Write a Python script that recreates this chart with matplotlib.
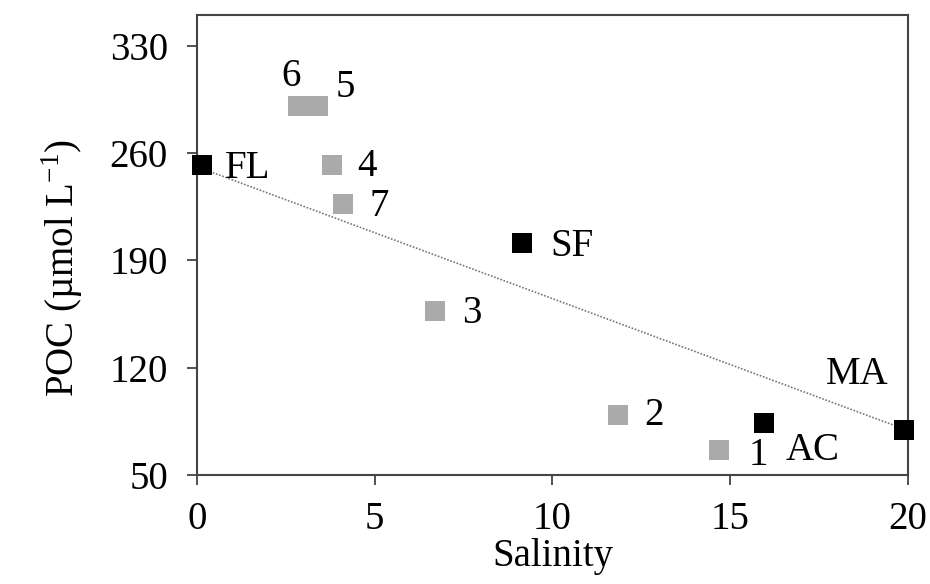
import matplotlib.pyplot as plt
import numpy as np

plt.rcParams['font.family'] = ['Liberation Serif', 'DejaVu Serif']
plt.rcParams['mathtext.fontset'] = 'custom'
plt.rcParams['mathtext.rm'] = 'Liberation Serif'

# stations (black squares)
st_names = ['FL', 'SF', 'AC', 'MA']
st_sal = [0.15, 9.15, 15.95, 19.9]
st_poc = [252, 201, 84, 79]

# samples (grey squares)
smp_names = ['1', '2', '3', '4', '5', '6', '7']
smp_sal = [14.7, 11.85, 6.7, 3.8, 3.4, 2.85, 4.1]
smp_poc = [66, 89, 157, 252, 291, 291, 227]

# trend line (salinity, POC) end points
trend_sal = [0, 20]
trend_poc = [251, 79]

FS = 28

fig = plt.figure(figsize=(9.3, 5.84), dpi=100)
ax = fig.add_axes([0.212, 0.187, 0.764, 0.787])

ax.plot(trend_sal, trend_poc, color='#777777', linestyle=(0, (1, 1)), linewidth=1.2, zorder=1)
ax.scatter(smp_sal, smp_poc, marker='s', s=190, color='#aaaaaa', linewidths=0, zorder=2, clip_on=False)
ax.scatter(st_sal, st_poc, marker='s', s=220, color='black', linewidths=0, zorder=3, clip_on=False)

# label offsets in points
st_off = {'FL': (16, -2), 'SF': (20, -2), 'AC': (16, -20), 'MA': (-56, 40)}
smp_off = {'1': (21, -4), '2': (19, 0), '3': (19, -2), '4': (18, -1),
           '5': (13, 13), '6': (-12, 21), '7': (19, -2)}
for n, x, y in zip(st_names, st_sal, st_poc):
    ax.annotate(n, (x, y), xytext=st_off[n], textcoords='offset points',
                fontsize=FS, va='center', ha='left')
for n, x, y in zip(smp_names, smp_sal, smp_poc):
    ax.annotate(n, (x, y), xytext=smp_off[n], textcoords='offset points',
                fontsize=FS, va='center', ha='left')

ax.set_xlim(0, 20)
ax.set_ylim(50, 350)
ax.set_xticks([0, 5, 10, 15, 20])
ax.set_yticks([50, 120, 190, 260, 330])
ax.tick_params(labelsize=FS, direction='out', length=7, width=1.2, colors='#333333', labelcolor='black')
ax.tick_params(axis='y', pad=14)
ax.tick_params(axis='x', pad=12)
for s in ax.spines.values():
    s.set_color('#444444')
    s.set_linewidth(1.5)

ax.set_xlabel('Salinity', fontsize=FS, labelpad=0)
ax.set_ylabel(r'POC (µmol L$^{\mathregular{-1}}$)', fontsize=FS, labelpad=18, y=0.45)

fig.savefig('out.png', dpi=100)
